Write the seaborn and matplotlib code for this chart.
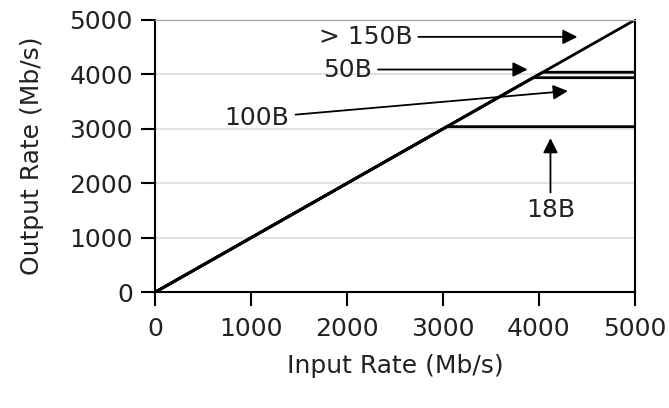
import matplotlib
matplotlib.use('Agg')
import matplotlib.pyplot as plt
import seaborn as sns
import pandas as pd

# 数据：各包长下的输入/输出速率 (Mb/s)
input_rate = [0, 1000, 2000, 3000, 3040, 3940, 4040, 5000]
out_150b = [0, 1000, 2000, 3000, 3040, 3940, 4040, 5000]
out_100b = [0, 1000, 2000, 3000, 3040, 3940, 3940, 3940]
out_50b = [0, 1000, 2000, 3000, 3040, 3940, 4040, 4040]
out_18b = [0, 1000, 2000, 3000, 3040, 3040, 3040, 3040]

series_names = ['>150B', '100B', '50B', '18B']
ticks = [0, 1000, 2000, 3000, 4000, 5000]

df = pd.DataFrame({
    'Input': input_rate * 4,
    'Output': out_150b + out_100b + out_50b + out_18b,
    'Size': sum([[n] * len(input_rate) for n in series_names], []),
})

sns.set_theme(style='white')
plt.rcParams['font.family'] = ['DejaVu Sans']

FS = 18
TXT = '#222222'

fig = plt.figure(figsize=(6.69, 4.08), dpi=100)
ax = fig.add_axes([0.232, 0.284, 0.717, 0.667])

sns.lineplot(data=df, x='Input', y='Output', units='Size', estimator=None,
             color='black', linewidth=2, sort=True, ax=ax)

ax.set_xlim(0, 5000)
ax.set_ylim(0, 5000)
ax.set_xticks(ticks)
ax.set_yticks(ticks)
ax.yaxis.grid(True, color='#dddddd', linewidth=1.2)
ax.set_axisbelow(True)
for s in ax.spines.values():
    s.set_color('black')
    s.set_linewidth(1.5)
ax.spines['top'].set_color('#aaaaaa')
ax.spines['top'].set_linewidth(1)
ax.tick_params(axis='both', direction='out', length=10, width=1.5,
               colors='black', labelsize=FS, labelcolor=TXT,
               bottom=True, left=True)
ax.tick_params(axis='x', pad=8)
ax.tick_params(axis='y', pad=6)
ax.set_xlabel('Input Rate (Mb/s)', fontsize=FS, color=TXT, labelpad=9)
ax.set_ylabel('Output Rate (Mb/s)', fontsize=FS, color=TXT, labelpad=18)

arrow = dict(arrowstyle='-|>', color='black', lw=1.3, mutation_scale=22)
ax.annotate('> 150B', xy=(4430, 4690), xytext=(2680, 4690), fontsize=FS,
            color=TXT, ha='right', va='center', arrowprops=arrow)
ax.annotate('50B', xy=(3910, 4090), xytext=(2260, 4090), fontsize=FS,
            color=TXT, ha='right', va='center', arrowprops=arrow)
ax.annotate('100B', xy=(4330, 3700), xytext=(1400, 3200), fontsize=FS,
            color=TXT, ha='right', va='center', arrowprops=arrow)
ax.annotate('18B', xy=(4120, 2880), xytext=(4120, 1500), fontsize=FS,
            color=TXT, ha='center', va='center', arrowprops=arrow)

plt.savefig('out.png', dpi=100)
plt.close()
